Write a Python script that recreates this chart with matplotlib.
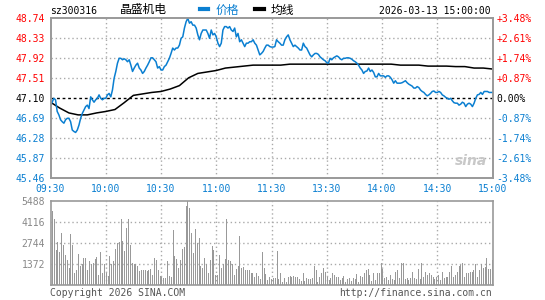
import matplotlib
matplotlib.use("Agg")
import matplotlib.pyplot as plt
import numpy as np
from matplotlib.lines import Line2D

# ---- data ----
prev_close = 47.10
price_ticks = [45.46, 45.87, 46.28, 46.69, 47.10, 47.51, 47.92, 48.33, 48.74]
pct_labels = ["-3.48%", "-2.61%", "-1.74%", "-0.87%", "0.00%",
              "+0.87%", "+1.74%", "+2.61%", "+3.48%"]
time_labels = ["09:30", "10:00", "10:30", "11:00", "11:30",
               "13:30", "14:00", "14:30", "15:00"]
vol_ticks = [1372, 2744, 4116, 5488]

price = [
    46.96, 47.02, 47.10, 47.07, 46.83, 46.76, 46.66, 46.62, 46.59, 46.66,
    46.69, 46.69, 46.62, 46.45, 46.42, 46.40, 46.45, 46.55, 46.69, 46.79,
    46.86, 46.93, 46.96, 46.89, 47.13, 47.07, 47.02, 47.07, 47.10, 47.17,
    47.10, 47.07, 47.10, 47.10, 47.17, 47.20, 47.13, 47.27, 47.51, 47.65,
    47.82, 47.92, 47.92, 47.89, 47.91, 47.89, 47.85, 47.89, 47.78, 47.65,
    47.72, 47.78, 47.82, 47.72, 47.68, 47.61, 47.65, 47.72, 47.78, 47.85,
    47.93, 47.93, 47.89, 47.85, 47.72, 47.75, 47.68, 47.68,
    47.75, 47.78, 47.85, 47.92, 48.02, 48.13, 48.09, 48.13, 48.13, 48.19,
    48.33, 48.36, 48.54, 48.67, 48.74, 48.64, 48.67, 48.60, 48.60, 48.54,
    48.40, 48.30, 48.43, 48.50, 48.50, 48.50, 48.43, 48.33, 48.50, 48.40,
    48.43, 48.36, 48.23, 48.16, 48.23, 48.50, 48.57, 48.57, 48.54, 48.57,
    48.50, 48.47, 48.54, 48.36, 48.43, 48.26, 48.30, 48.23, 48.16, 48.23,
    48.23, 48.26, 48.26, 48.30, 48.23, 48.19, 48.09, 47.99, 48.02, 48.06,
    48.13, 48.19, 48.19, 48.16, 48.15, 48.15,
    48.16, 48.30, 48.26, 48.23, 48.19, 48.19, 48.30, 48.36, 48.40, 48.30,
    48.23, 48.16, 48.19, 48.16, 48.13, 48.09, 48.09, 48.23, 48.16, 48.13,
    48.06, 47.99, 47.95, 47.99, 48.02, 48.02, 48.00, 47.95, 47.92, 47.89,
    47.87, 47.83, 47.82, 47.92, 47.89, 47.93, 47.95, 47.97, 47.95, 47.91,
    47.89, 47.92, 47.92, 47.93, 47.93, 47.92, 47.90, 47.87, 47.85, 47.82,
    47.78, 47.72, 47.68, 47.61, 47.65, 47.66, 47.72, 47.65, 47.68, 47.63,
    47.54, 47.54, 47.61, 47.56, 47.56, 47.56,
    47.53, 47.56, 47.56, 47.53, 47.48, 47.41, 47.46, 47.41, 47.41, 47.41,
    47.42, 47.44, 47.46, 47.42, 47.39, 47.37, 47.35, 47.31, 47.31, 47.34,
    47.32, 47.27, 47.24, 47.22, 47.18, 47.15, 47.17, 47.20, 47.24, 47.25,
    47.22, 47.22, 47.24, 47.22, 47.17, 47.15, 47.12, 47.10, 47.08, 47.10,
    47.05, 47.01, 47.00, 47.00, 46.96, 46.98, 47.02, 47.00, 46.93, 46.98,
    47.00, 46.98, 46.93, 47.00, 47.10, 47.17, 47.18, 47.22, 47.18, 47.24,
    47.24, 47.24, 47.22, 47.22, 47.22,
]

# average price, every 5 minutes
avg_price = [
    47.02, 46.90, 46.80, 46.76, 46.76, 46.80, 46.83, 46.87, 47.01, 47.16,
    47.19, 47.22, 47.24, 47.29, 47.36, 47.52, 47.61, 47.64, 47.67, 47.72,
    47.74, 47.76, 47.78, 47.78, 47.78, 47.78, 47.80, 47.80, 47.80, 47.80,
    47.80, 47.80, 47.80, 47.80, 47.80, 47.80, 47.80, 47.80, 47.78, 47.78,
    47.78, 47.76, 47.76, 47.76, 47.75, 47.75, 47.72, 47.72, 47.70,
]

volume = [
    660, 4830, 4320, 2300, 2790, 2150, 3370, 2630, 1980, 1650,
    1140, 3300, 2630, 810, 990, 2040, 1250, 1390, 1740, 1760,
    990, 1580, 1390, 1450, 1720, 1850, 660, 2130, 810, 1390,
    770, 590, 1920, 1390, 1580, 2350, 2740, 2790, 4280, 2900,
    2190, 3700, 4280, 2630, 1470, 1390, 1390, 1250, 930, 990,
    990, 990, 930, 990, 1030, 660, 1760, 1650, 990, 590,
    550, 460, 440, 1580, 590, 500, 3590, 1920, 1720, 1100,
    1650, 2350, 2480, 5160, 5488, 5050, 3410, 2090, 3630, 2740,
    3070, 1210, 1140, 1760, 1390, 770, 1650, 2570, 2260, 660,
    660, 1980, 1100, 1390, 1690, 4280, 1610, 1540, 1390, 660,
    1030, 1250, 3190, 1100, 1170, 950, 950, 990, 770, 810,
    500, 810, 590, 370, 2130, 1100, 730, 330, 500, 370,
    440,
    440, 2200, 370, 810, 220, 440, 220, 500, 590, 500,
    590, 500, 550, 370, 285, 810, 285, 460, 370, 370,
    440, 1250, 950, 220, 500, 770, 1100, 880, 500, 330,
    440, 770, 660, 550, 550, 330, 440, 590, 220, 370,
    440, 285, 440, 370, 730, 220, 590, 500, 810, 950,
    1030, 660, 285, 810, 330, 810, 770, 1430, 1030, 440,
    500, 330, 660, 370, 330, 880, 950, 440, 1430, 1470,
    370, 440, 330, 440, 880, 440, 370, 1030, 370, 1430,
    550, 880, 660, 810, 660, 500, 370, 500, 660, 330,
    880, 440, 500, 500, 880, 1250, 500, 660, 880, 1210,
    1320, 1430, 550, 770, 810, 880, 880, 990, 1390, 550,
    990, 1390, 1100, 1170, 1760, 1050, 1030, 1610,
]

# ---- colours / fonts ----
RED = "#ff0000"
BLUE = "#0a7fd1"
GRID = "#aaaaaa"
MONO = "DejaVu Sans Mono"
CJK = ["Noto Sans CJK SC", "DejaVu Sans"]

W, H = 545, 300
fig = plt.figure(figsize=(W / 100, H / 100), dpi=100)
fig.patch.set_facecolor("white")

def box(l, t, r, b):
    return [l / W, 1 - b / H, (r - l) / W, (b - t) / H]

ax = fig.add_axes(box(50.5, 18.3, 492.5, 178.3))
axv = fig.add_axes(box(50.5, 201, 492.5, 285))

t_price = np.linspace(0, 240, len(price))
t_avg = np.linspace(0, 240, len(avg_price))
t_vol = np.linspace(0, 240, len(volume))
grid_x = np.arange(0, 241, 30)

# price panel
for y in price_ticks[1:-1]:
    if y == prev_close:
        ax.axhline(y, color="black", lw=1, ls=(0, (2, 2)), zorder=1)
    else:
        ax.axhline(y, color=GRID, lw=1, ls=(0, (1, 2)), zorder=1)
for x in grid_x[1:-1]:
    ax.axvline(x, color=GRID, lw=1, ls=(0, (1, 2)), zorder=1)

ax.plot(t_price, price, color=BLUE, lw=1.1, zorder=3)
ax.plot(t_avg, avg_price, color="black", lw=1.1, zorder=2)
ax.set_xlim(0, 240)
ax.set_ylim(price_ticks[0], price_ticks[-1])

ax.set_yticks(price_ticks)
ax.set_yticklabels(["%.2f" % p for p in price_ticks])
ax.set_xticks(grid_x)
ax.set_xticklabels(time_labels)
ax.tick_params(length=0, labelsize=7, pad=4)
for lab in ax.get_xticklabels():
    lab.set_color(BLUE)
    lab.set_fontfamily(MONO)
for lab, p in zip(ax.get_yticklabels(), price_ticks):
    lab.set_fontfamily(MONO)
    lab.set_color(RED if p > prev_close else ("black" if p == prev_close else BLUE))

axr = ax.twinx()
axr.set_ylim(ax.get_ylim())
axr.set_yticks(price_ticks)
axr.set_yticklabels(pct_labels)
axr.tick_params(length=0, labelsize=7, pad=3)
for lab, p in zip(axr.get_yticklabels(), price_ticks):
    lab.set_fontfamily(MONO)
    lab.set_color(RED if p > prev_close else ("black" if p == prev_close else BLUE))

for a in (ax, axr, axv):
    for s in a.spines.values():
        s.set_color("#999999")
        s.set_linewidth(1.2)

# volume panel
for y in vol_ticks[:-1]:
    axv.axhline(y, color=GRID, lw=1, ls=(0, (1, 2)), zorder=1)
for x in grid_x[1:-1]:
    axv.axvline(x, color=GRID, lw=1, ls=(0, (1, 2)), zorder=1)
axv.bar(t_vol, volume, width=0.55, color="#999999", linewidth=0, zorder=2)
axv.set_xlim(0, 240)
axv.set_ylim(0, vol_ticks[-1])
axv.set_xticks([])
axv.set_yticks(vol_ticks)
axv.set_yticklabels([str(v) for v in vol_ticks])
axv.tick_params(length=0, labelsize=7, pad=4, labelcolor="#888888")
for lab in axv.get_yticklabels():
    lab.set_fontfamily(MONO)

# header
fig.text(50 / W, 1 - 11 / H, "sz300316", fontsize=7, family=MONO, va="center")
fig.text(120 / W, 1 - 10 / H, "晶盛机电", fontsize=8.5, family=CJK, va="center")
fig.text(491 / W, 1 - 11 / H, "2026-03-13 15:00:00", fontsize=7, family=MONO,
         va="center", ha="right")
handles = [Line2D([], [], color=BLUE, lw=3), Line2D([], [], color="black", lw=3)]
leg = fig.legend(handles, ["价格", "均线"], loc="center",
                 bbox_to_anchor=(247 / W, 1 - 10 / H), ncol=2, frameon=False,
                 handlelength=0.7, handletextpad=0.6, columnspacing=1.4,
                 prop={"family": CJK, "size": 8.5})
leg.get_texts()[0].set_color(BLUE)

# watermark + footer
fig.text(471 / W, 1 - 161 / H, "sina", fontsize=10, style="italic",
         weight="bold", color="#c8c8c8", ha="center", va="center")
fig.text(50 / W, 1 - 293 / H, "Copyright 2026 SINA.COM", fontsize=7,
         family=MONO, color="#555555", va="center")
fig.text(492 / W, 1 - 293 / H, "http://finance.sina.com.cn", fontsize=7,
         family=MONO, color="#555555", va="center", ha="right")

fig.savefig("out.png", dpi=100)
